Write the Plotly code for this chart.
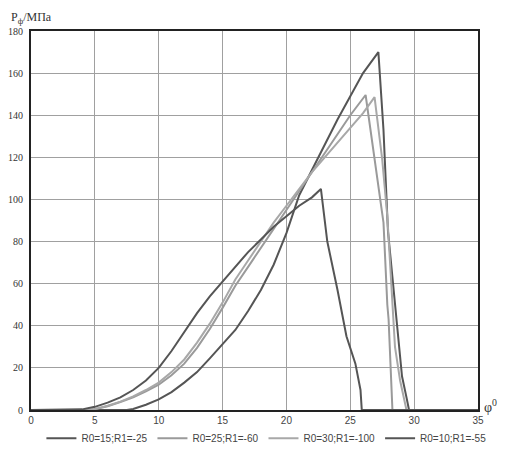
import plotly.graph_objects as go

# series (angle in degrees, pressure in MPa)
x_a = [0, 3, 4, 5, 6, 7, 8, 9, 10, 11, 12, 13, 14, 15, 16, 17, 18, 19, 20, 21, 22, 22.7, 23.2, 24, 24.7, 25.4, 25.8, 25.9, 35]
y_a = [0, 0, 0.3, 1.5, 3.5, 6, 9.5, 14, 20, 28, 37, 46, 54, 61, 68, 75, 81, 87, 92, 97, 101, 105, 80, 57, 35, 22, 9.5, 0, 0]

x_b = [0, 7.5, 8, 9, 10, 11, 12, 13, 14, 15, 16, 17, 18, 19, 20, 21, 22, 23, 24, 25, 26, 27.2, 27.6, 27.95, 28.7, 29.05, 29.4, 29.6, 35]
y_b = [0, 0, 0.5, 2.5, 5, 8.5, 13, 18, 24.5, 31, 38, 47, 57, 69, 84, 102, 114, 126, 138, 149, 160, 170, 133, 85, 38, 16, 6, 0, 0]

x_c = [0, 4.5, 5, 6, 7, 8, 9, 10, 11, 12, 13, 14, 15, 16, 17, 18, 19, 20, 21, 22, 23, 24, 25, 26.2, 26.7, 27.1, 27.6, 27.9, 28.0, 28.3, 35]
y_c = [0, 0, 0.4, 1.8, 3.8, 6, 8.8, 12, 16.5, 22, 29.5, 38.5, 48.5, 59, 68, 77, 86, 95, 104, 113, 122, 131, 140, 149.6, 128, 109, 89, 50, 43, 0, 0]

x_d = [0, 4.5, 5, 6, 7, 8, 9, 10, 11, 12, 13, 14, 15, 16, 17, 18, 19, 20, 21, 22, 23, 24, 25, 26, 26.9, 27.5, 27.9, 28.3, 28.5, 28.9, 29.4, 35]
y_d = [0, 0, 0.5, 2, 4, 6.5, 9.5, 13, 18, 24, 32, 41, 51, 62, 71, 80, 89, 97, 105, 113, 120, 127, 134, 141, 148.6, 119, 92, 54, 30, 14, 0, 0]

names = ["R0=15;R1=-25", "R0=25;R1=-60", "R0=30;R1=-100", "R0=10;R1=-55"]
colors = ["#555555", "#9a9a9a", "#a8a8a8", "#555555"]
series = [(x_b, y_b), (x_c, y_c), (x_d, y_d), (x_a, y_a)]

fig = go.Figure()
for (xs, ys), name, col in zip(series, names, colors):
    fig.add_trace(go.Scatter(x=xs, y=ys, mode="lines", name=name,
                             line=dict(color=col, width=2)))

# the page body adds an 8px offset, so the margins are shifted to compensate
fig.update_layout(
    width=514, height=449,
    margin=dict(l=23, r=44, t=23, b=47, autoexpand=False),
    paper_bgcolor="white", plot_bgcolor="white",
    font=dict(family="Liberation Sans", size=10, color="#333333"),
    showlegend=True,
    legend=dict(orientation="h", xref="container", x=0.065, xanchor="left",
                yref="container", y=0.042, yanchor="middle",
                font=dict(size=10, color="#444444"), itemwidth=30,
                tracegroupgap=0, bgcolor="rgba(0,0,0,0)"),
    xaxis=dict(range=[0, 35], tickvals=[0, 5, 10, 15, 20, 25, 30, 35],
               showgrid=True, gridcolor="#a0a0a0", gridwidth=1,
               showline=True, linecolor="#222222", linewidth=2, mirror=True,
               zeroline=False, ticks="", automargin=False,
               tickfont=dict(size=10, color="#444444")),
    yaxis=dict(range=[0, 180], tickvals=list(range(0, 181, 20)),
               showgrid=True, gridcolor="#a0a0a0", gridwidth=1,
               showline=True, linecolor="#222222", linewidth=2, mirror=True,
               zeroline=False, ticks="", ticklabelstandoff=4, automargin=False,
               tickfont=dict(family="Liberation Serif", size=10, color="#333333")),
    annotations=[
        dict(text="P<sub>ф</sub>/МПа", xref="paper", yref="paper", x=-0.05, y=1.06,
             xanchor="left", yanchor="top", showarrow=False,
             font=dict(family="Liberation Serif", size=12, color="#333333")),
        dict(text="φ<sup>0</sup>", xref="paper", yref="paper", x=1.01, y=0.01,
             xanchor="left", yanchor="middle", showarrow=False,
             font=dict(family="Liberation Serif", size=14, color="#333333")),
    ],
)

fig.write_html("out.html")
